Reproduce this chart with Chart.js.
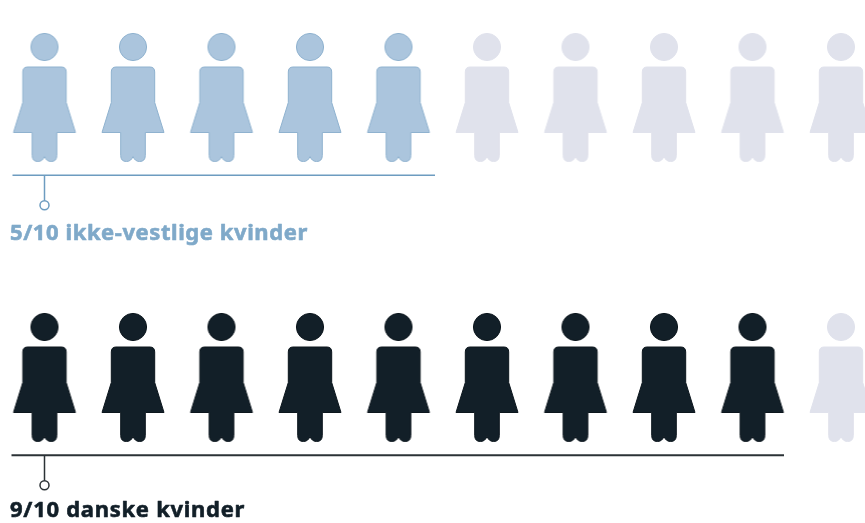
<!DOCTYPE html>
<html lang="da">
<head>
<meta charset="utf-8">
<style>html,body{margin:0;padding:0;background:#fff}canvas{display:block}</style>
<script src="https://cdn.jsdelivr.net/npm/chart.js@4"></script>
</head>
<body>
<canvas id="c" width="865" height="523"></canvas>
<script>
const rowLabels = ['5/10 ikke-vestlige kvinder', '9/10 danske kvinder'];
const rowPositions = [1, 0];
const filledCounts = [5, 9];
const slots = [0, 1, 2, 3, 4, 5, 6, 7, 8, 9];
const fillColors = ['#abc5dd', '#121f28'];
const edgeColors = ['#8fb2cf', '#0c161d'];
const lineColors = ['#6d9cc0', '#2b3236'];
const labelColors = ['#7fa9c9', '#121f28'];
const emptyFill = '#e0e2ec';

function icon(fill, edge) {
  const cv = document.createElement('canvas');
  cv.width = 68; cv.height = 132;
  const g = cv.getContext('2d');
  g.translate(34, 66);
  g.fillStyle = fill; g.strokeStyle = edge; g.lineWidth = 1; g.lineJoin = 'round';
  g.beginPath(); g.arc(0, -51, 13.6, 0, Math.PI * 2); g.closePath(); g.fill(); g.stroke();
  g.beginPath();
  g.moveTo(-17, -31);
  g.lineTo(17, -31);
  g.quadraticCurveTo(21.7, -31, 21.7, -26);
  g.lineTo(21.7, 4.5);
  g.lineTo(31, 34.5);
  g.lineTo(12.3, 34.5);
  g.lineTo(12.3, 57.5);
  g.quadraticCurveTo(12.3, 63.5, 6.5, 63.5);
  g.quadraticCurveTo(2, 63.5, 0, 58.5);
  g.quadraticCurveTo(-2, 63.5, -6.5, 63.5);
  g.quadraticCurveTo(-12.3, 63.5, -12.3, 57.5);
  g.lineTo(-12.3, 34.5);
  g.lineTo(-31, 34.5);
  g.lineTo(-21.7, 4.5);
  g.lineTo(-21.7, -26);
  g.quadraticCurveTo(-21.7, -31, -17, -31);
  g.closePath(); g.fill(); g.stroke();
  return cv;
}

const datasets = [];
rowPositions.forEach((row, i) => {
  datasets.push({
    label: rowLabels[i],
    data: slots.filter(s => s < filledCounts[i]).map(s => ({ x: s, y: row })),
    pointStyle: icon(fillColors[i], edgeColors[i]),
    showLine: false, clip: false
  });
  datasets.push({
    label: 'rest',
    data: slots.filter(s => s >= filledCounts[i]).map(s => ({ x: s, y: row })),
    pointStyle: icon(emptyFill, emptyFill),
    showLine: false, clip: false
  });
});

const brackets = {
  id: 'brackets',
  afterDatasetsDraw(chart) {
    const { ctx, scales: { x, y } } = chart;
    ctx.save();
    rowPositions.forEach((row, i) => {
      const cy = y.getPixelForValue(row);
      const ly = cy + 77.3;
      const x0 = x.getPixelForValue(slots[0]);
      const x1 = x.getPixelForValue(filledCounts[i] - 1);
      ctx.strokeStyle = lineColors[i];
      ctx.lineWidth = i === 0 ? 1.5 : 2;
      ctx.beginPath(); ctx.moveTo(x0 - (i === 0 ? 32 : 33), ly); ctx.lineTo(x1 + (i === 0 ? 36.5 : 31.5), ly); ctx.stroke();
      ctx.lineWidth = 1.5;
      ctx.beginPath(); ctx.moveTo(x0, ly); ctx.lineTo(x0, ly + 25.5); ctx.stroke();
      ctx.fillStyle = '#fff';
      ctx.beginPath(); ctx.arc(x0, ly + 30, 4.5, 0, Math.PI * 2); ctx.fill(); ctx.stroke();
      ctx.fillStyle = labelColors[i];
      ctx.strokeStyle = labelColors[i];
      ctx.lineWidth = 0.6;
      ctx.lineJoin = 'round';
      ctx.font = 'bold 22px "Noto Sans"';
      ctx.letterSpacing = i === 0 ? '0.58px' : '0.72px';
      ctx.textBaseline = 'alphabetic';
      const ty = ly + (i === 0 ? 64.5 : 62);
      ctx.fillText(rowLabels[i], 10, ty);
      ctx.strokeText(rowLabels[i], 10, ty);
    });
    ctx.restore();
  }
};

new Chart(document.getElementById('c'), {
  type: 'scatter',
  data: { datasets },
  plugins: [brackets],
  options: {
    responsive: false,
    animation: false,
    events: [],
    layout: { padding: 0, autoPadding: false },
    plugins: { legend: { display: false }, tooltip: { enabled: false }, title: { display: false } },
    scales: {
      x: { type: 'linear', display: false, min: -44.5 / 88.5, max: (865 - 44.5) / 88.5 },
      y: { type: 'linear', display: false, min: -145 / 280, max: 1 + 98 / 280 }
    }
  }
});
</script>
</body>
</html>
